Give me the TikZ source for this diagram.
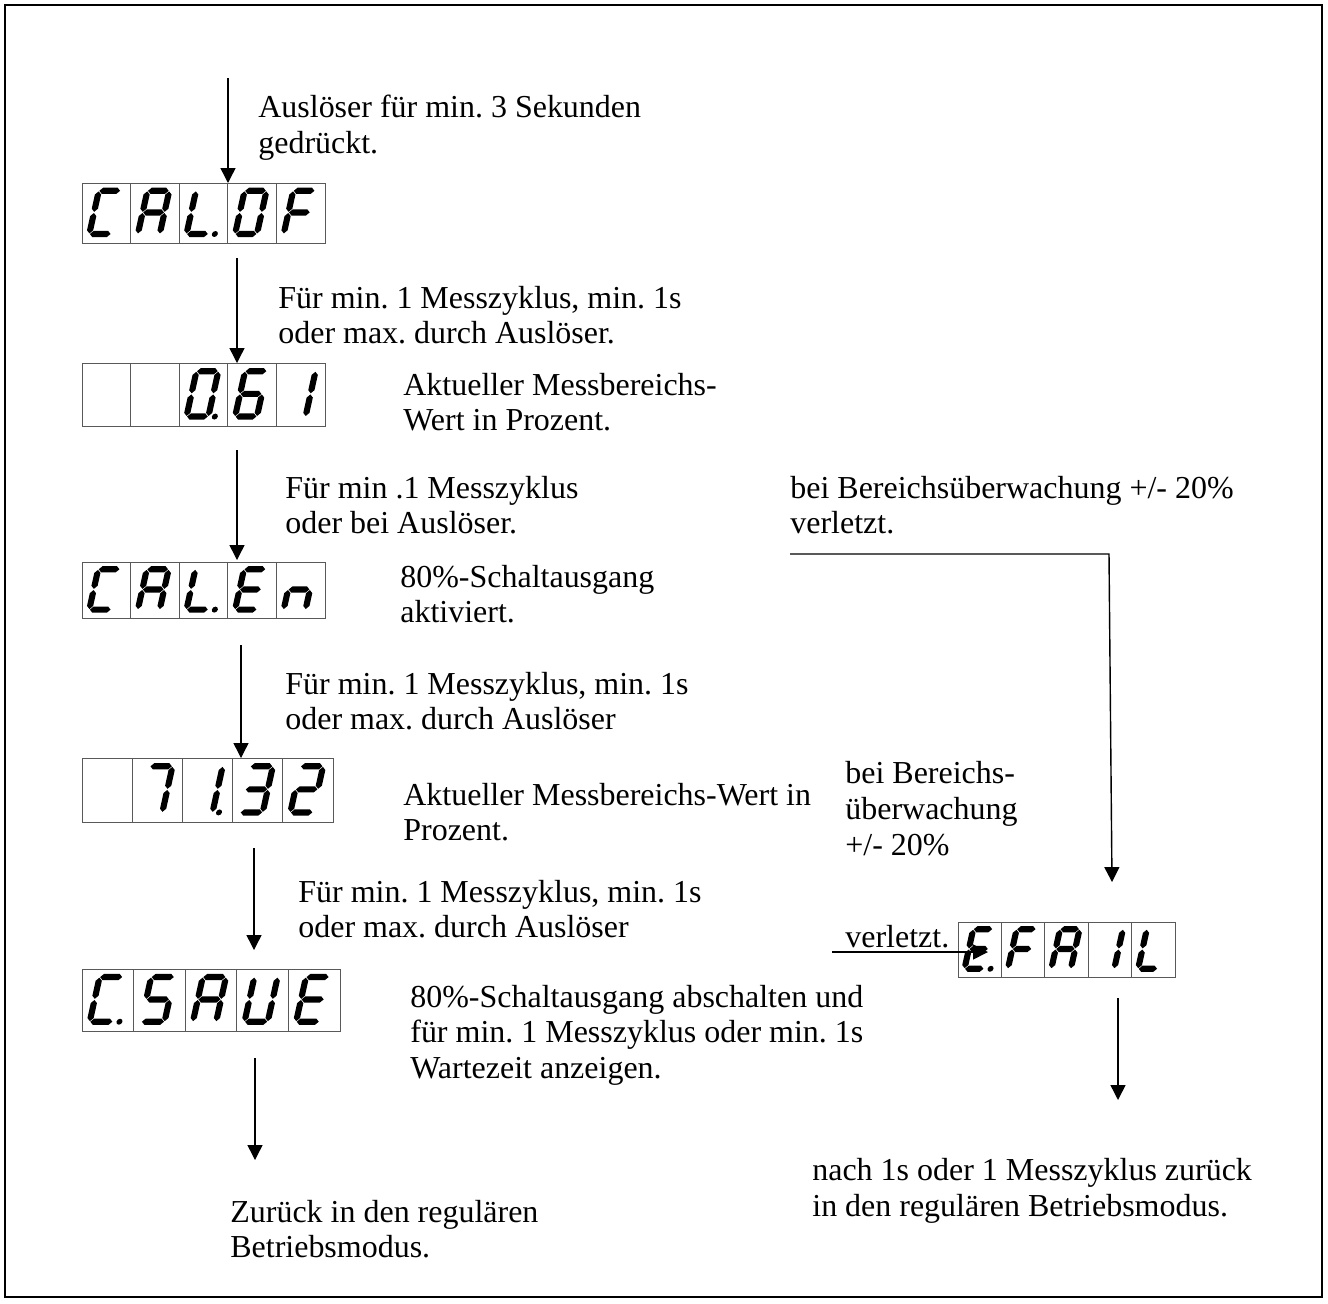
\documentclass[tikz,border=0pt]{standalone}
\usepackage{fontspec}
\setmainfont{Liberation Serif}
\usetikzlibrary{arrows.meta}

% Sieben-Segment-Anzeige: Segmente a..g, p = Dezimalpunkt, o = aus
\newcommand{\segw}{3.1}
\newcommand{\seggap}{0.6}
\newcommand{\hseg}[1]{\fill (\seggap,#1) -- (\seggap+\segw,#1+\segw) -- (\dw-\seggap-\segw,#1+\segw) -- (\dw-\seggap,#1) -- (\dw-\seggap-\segw,#1-\segw) -- (\seggap+\segw,#1-\segw) -- cycle;}
\newcommand{\vseg}[2]{\fill (#1,#2+\seggap) -- (#1+\segw,#2+\seggap+\segw) -- (#1+\segw,#2+\dh-\seggap-\segw) -- (#1,#2+\dh-\seggap) -- (#1-\segw,#2+\dh-\seggap-\segw) -- (#1-\segw,#2+\seggap+\segw) -- cycle;}
\newcommand{\sega}{\hseg{2*\dh}}
\newcommand{\segg}{\hseg{\dh}}
\newcommand{\segd}{\hseg{0}}
\newcommand{\segf}{\vseg{0}{\dh}}
\newcommand{\segb}{\vseg{\dw}{\dh}}
\newcommand{\sege}{\vseg{0}{0}}
\newcommand{\segc}{\vseg{\dw}{0}}
\newcommand{\segp}{\fill (\dw+6.5,0) circle (1.7pt);}
\newcommand{\sego}{}
% #1,#2 = links oben, #3 = Zellbreite, #4 = Zellhoehe, #5 = Zeichen
\newcommand{\segdisplay}[5]{%
  \foreach \glyph [count=\i from 0] in {#5} {
    \draw[cellline] (#1+\i*#3,#2) rectangle ++(#3,#4);
    \begin{scope}[shift={(#1+\i*#3+0.15*#3,#2+0.85*#4)},xslant=0.22,yscale=-1]
      \pgfmathsetmacro{\dw}{0.45*#3}
      \pgfmathsetmacro{\dh}{0.36*#4}
      \foreach \sl in \glyph {\csname seg\sl\endcsname}
    \end{scope}
  }%
}

\tikzset{
  cellline/.style={draw=black!65,line width=0.5pt},
  note/.style={anchor=west,align=left,inner sep=0pt},
  arr/.style={-{Triangle[length=8.5pt,width=8.5pt]},line width=0.8pt}
}

\begin{document}
\frenchspacing
\begin{tikzpicture}[x=0.02cm,y=-0.02cm,font=\fontsize{18.2}{20.3}\selectfont]
  \useasboundingbox (0,0) rectangle (1328,1303);
  \draw[line width=0.8pt] (5,5) rectangle (1322,1297);
  % --- Anzeigen ---
  \segdisplay{82}{183}{48.6}{60}{{a,d,e,f},{a,b,c,e,f,g},{d,e,f,p},{a,b,c,d,e,f},{a,e,f,g}}
  \segdisplay{82}{363}{48.6}{63}{{o},{o},{a,b,c,d,e,f,p},{a,c,d,e,f,g},{b,c}}
  \segdisplay{82}{562}{48.6}{56}{{a,d,e,f},{a,b,c,e,f,g},{d,e,f,p},{a,d,e,f,g},{c,e,g}}
  \segdisplay{82}{758}{50.2}{64}{{o},{a,b,c},{b,c,p},{a,b,c,d,g},{a,b,d,e,g}}
  \segdisplay{82}{969}{51.6}{62}{{a,d,e,f,p},{a,c,d,f,g},{a,b,c,e,f,g},{b,c,d,e,f},{a,d,e,f,g}}
  \segdisplay{958}{922}{43.4}{55}{{a,d,e,f,g,p},{a,e,f,g},{a,b,c,e,f,g},{b,c},{d,e,f}}
  % --- Texte ---
  \node[note] (trig)   at (258,128)  {Auslöser für min. 3 Sekunden\\gedrückt.};
  \node[note] (cyc1)   at (278,315)  {Für min. 1 Messzyklus, min. 1s\\oder max. durch Auslöser.};
  \node[note] (val1)   at (403,402)  {Aktueller Messbereichs-\\Wert in Prozent.};
  \node[note] (cyc2)   at (285,505)  {Für min .1 Messzyklus\\oder bei Auslöser.};
  \node[note] (mon1)   at (790,505)  {bei Bereichsüberwachung +/- 20\%\\verletzt.};
  \node[note] (sw80)   at (400,594)  {80\%-Schaltausgang\\aktiviert.};
  \node[note] (cyc3)   at (285,701)  {Für min. 1 Messzyklus, min. 1s\\oder max. durch Auslöser};
  \node[note] (val2)   at (403,812)  {Aktueller Messbereichs-Wert in\\Prozent.};
  \node[note] (mon2)   at (845,855)  {bei Bereichs-\\überwachung\\+/- 20\%\\[1.14cm]verletzt.};
  \node[note] (cyc4)   at (298,909)  {Für min. 1 Messzyklus, min. 1s\\oder max. durch Auslöser};
  \node[note] (save)   at (410,1035) {80\%-Schaltausgang abschalten und\\für min. 1 Messzyklus oder min. 1s\\Wartezeit anzeigen.};
  \node[note] (back1)  at (230,1229) {Zurück in den regulären\\Betriebsmodus.};
  \node[note] (back2)  at (812,1191) {nach 1s oder 1 Messzyklus zurück\\in den regulären Betriebsmodus.};
  % --- Pfeile ---
  \coordinate (s1) at (228,78);   \coordinate (calof) at (228,183);
  \coordinate (s2) at (237,258);  \coordinate (val061) at (237,363);
  \coordinate (s3) at (237,450);  \coordinate (calen) at (237,560);
  \coordinate (s4) at (241,645);  \coordinate (val71) at (241,758);
  \coordinate (s5) at (254,848);  \coordinate (csave) at (254,950);
  \coordinate (s6) at (255,1058); \coordinate (e6) at (255,1160);
  \coordinate (s7) at (790,554);  \coordinate (k7) at (1109,554); \coordinate (efailt) at (1112,882);
  \coordinate (s8) at (832,952);  \coordinate (efaill) at (988,952);
  \coordinate (s9) at (1118,998); \coordinate (e9) at (1118,1100);
  \draw[arr] (s1) -- (calof);
  \draw[arr] (s2) -- (val061);
  \draw[arr] (s3) -- (calen);
  \draw[arr] (s4) -- (val71);
  \draw[arr] (s5) -- (csave);
  \draw[arr] (s6) -- (e6);
  \draw[arr] (s7) -- (k7) -- (efailt);
  \draw[arr] (s8) -- (efaill);
  \draw[arr] (s9) -- (e9);
\end{tikzpicture}
\end{document}
